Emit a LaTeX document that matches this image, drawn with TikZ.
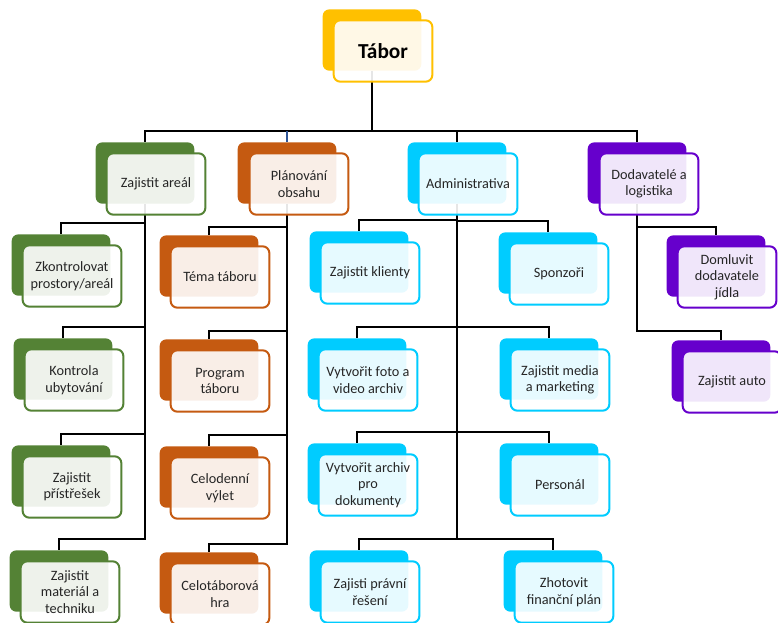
\documentclass[tikz,border=0pt]{standalone}
\usepackage{fontspec}
\setmainfont{Carlito}
\usepackage{tikz}
\usetikzlibrary{backgrounds}
\definecolor{rootyellow}{RGB}{255,192,0}
\definecolor{arealgreen}{RGB}{84,130,53}
\definecolor{planorange}{RGB}{197,90,17}
\definecolor{admincyan}{RGB}{0,204,255}
\definecolor{dodpurple}{RGB}{102,0,204}
\definecolor{linkblue}{RGB}{47,85,151}
\tikzstyle{back} = [rectangle, rounded corners=5pt, inner sep=0pt,
    minimum width=74pt, minimum height=46pt]
\tikzstyle{front} = [draw, rectangle, rounded corners=5pt, line width=1.5pt,
    fill=white, fill opacity=0.9, text opacity=1, text=black!85,
    minimum width=74pt, minimum height=46pt, inner sep=2pt, align=center,
    font=\fontsize{10.7}{12.3}\selectfont]
\tikzstyle{link} = [line width=1.5pt]

\begin{document}
\begin{tikzpicture}[x=0.75pt, y=-0.75pt]
    \useasboundingbox (0,0) rectangle (778,622);
    % root
    \node [back, fill=rootyellow] at (372,40) (tabor-b) {};
    \node [front, draw=rootyellow, text=black, font=\bfseries\fontsize{16}{19}\selectfont] at (383,51) (tabor) {Tábor};
    % first level
    \node [back, fill=arealgreen] at (145,173) (areal-b) {};
    \node [front, draw=arealgreen] at (156,184) (areal) {Zajistit areál};
    \node [back, fill=planorange] at (287,173) (plan-b) {};
    \node [front, draw=planorange] at (299,184) (plan) {Plánování\\obsahu};
    \node [back, fill=admincyan] at (457,173) (admin-b) {};
    \node [front, draw=admincyan] at (468,184) (admin) {Administrativa};
    \node [back, fill=dodpurple] at (637,173) (dod-b) {};
    \node [front, draw=dodpurple] at (649,184) (dod) {Dodavatelé a\\logistika};
    % green column
    \node [back, fill=arealgreen] at (61,265) (prostory-b) {};
    \node [front, draw=arealgreen] at (72,276) (prostory) {Zkontrolovat\\prostory/areál};
    \node [back, fill=arealgreen] at (63,369) (ubytovani-b) {};
    \node [front, draw=arealgreen] at (74,380) (ubytovani) {Kontrola\\ubytování};
    \node [back, fill=arealgreen] at (61,476) (pristresek-b) {};
    \node [front, draw=arealgreen] at (72,487) (pristresek) {Zajistit\\přístřešek};
    \node [back, fill=arealgreen] at (59,581) (material-b) {};
    \node [front, draw=arealgreen] at (70,592) (material) {Zajistit\\materiál a\\techniku};
    % orange column
    \node [back, fill=planorange] at (209,266) (tema-b) {};
    \node [front, draw=planorange] at (220,277) (tema) {Téma táboru};
    \node [back, fill=planorange] at (209,370) (program-b) {};
    \node [front, draw=planorange] at (220,381) (program) {Program\\táboru};
    \node [back, fill=planorange] at (209,477) (vylet-b) {};
    \node [front, draw=planorange] at (220,488) (vylet) {Celodenní\\výlet};
    \node [back, fill=planorange] at (209,583) (hra-b) {};
    \node [front, draw=planorange] at (220,594) (hra) {Celotáborová\\hra};
    % cyan columns
    \node [back, fill=admincyan] at (359,262) (klienti-b) {};
    \node [front, draw=admincyan] at (370,273) (klienti) {Zajistit klienty};
    \node [back, fill=admincyan] at (548,263) (sponzori-b) {};
    \node [front, draw=admincyan] at (559,274) (sponzori) {Sponzoři};
    \node [back, fill=admincyan] at (357,369) (foto-b) {};
    \node [front, draw=admincyan] at (368,380) (foto) {Vytvořit foto a\\video archiv};
    \node [back, fill=admincyan] at (549,369) (media-b) {};
    \node [front, draw=admincyan] at (560,380) (media) {Zajistit media\\a marketing};
    \node [back, fill=admincyan] at (357,474) (archiv-b) {};
    \node [front, draw=admincyan] at (368,485) (archiv) {Vytvořit archiv\\pro\\dokumenty};
    \node [back, fill=admincyan] at (549,474) (personal-b) {};
    \node [front, draw=admincyan] at (560,485) (personal) {Personál};
    \node [back, fill=admincyan] at (359,581) (pravo-b) {};
    \node [front, draw=admincyan] at (370,592) (pravo) {Zajisti právní\\řešení};
    \node [back, fill=admincyan] at (553,581) (finance-b) {};
    \node [front, draw=admincyan] at (564,592) (finance) {Zhotovit\\finanční plán};
    % purple column
    \node [back, fill=dodpurple] at (716,266) (jidlo-b) {};
    \node [front, draw=dodpurple] at (727,277) (jidlo) {Domluvit\\dodavatele\\jídla};
    \node [back, fill=dodpurple] at (721,371) (auto-b) {};
    \node [front, draw=dodpurple] at (732,382) (auto) {Zajistit auto};
    % connectors
    \begin{scope}[on background layer]
    \draw [link] (tabor-b.south) |- ([yshift=8pt]areal-b.north) -- (areal-b.north);
    \draw [link] (tabor-b.south) |- ([yshift=8pt]dod-b.north) -- (dod-b.north);
    \draw [link] (tabor-b.south) |- ([yshift=8pt]admin-b.north) -- (admin-b.north);
    \draw [link, linkblue] ([yshift=8pt]plan-b.north) -- (plan-b.north);
    \draw [link] (areal-b.south) |- ([yshift=8pt]prostory-b.north) -- (prostory-b.north);
    \draw [link] (areal-b.south) |- ([yshift=8pt]ubytovani-b.north) -- (ubytovani-b.north);
    \draw [link] (areal-b.south) |- ([yshift=8pt]pristresek-b.north) -- (pristresek-b.north);
    \draw [link] (areal-b.south) |- ([yshift=8pt]material-b.north) -- (material-b.north);
    \draw [link] (plan-b.south) |- ([yshift=6pt]tema-b.north) -- (tema-b.north);
    \draw [link] (plan-b.south) |- ([yshift=6pt]program-b.north) -- (program-b.north);
    \draw [link] (plan-b.south) |- ([yshift=8pt]vylet-b.north) -- (vylet-b.north);
    \draw [link] (plan-b.south) |- ([yshift=6pt]hra-b.north) -- (hra-b.north);
    \draw [link] (admin-b.south) |- ([yshift=8pt]klienti-b.north) -- (klienti-b.north);
    \draw [link] (admin-b.south) |- ([yshift=8pt]sponzori-b.north) -- (sponzori-b.north);
    \draw [link] (admin-b.south) |- ([yshift=8pt]foto-b.north) -- (foto-b.north);
    \draw [link] (admin-b.south) |- ([yshift=8pt]media-b.north) -- (media-b.north);
    \draw [link] (admin-b.south) |- ([yshift=8pt]archiv-b.north) -- (archiv-b.north);
    \draw [link] (admin-b.south) |- ([yshift=8pt]personal-b.north) -- (personal-b.north);
    \draw [link] (admin-b.south) |- ([yshift=8pt]pravo-b.north) -- (pravo-b.north);
    \draw [link] (admin-b.south) |- ([yshift=8pt]finance-b.north) -- (finance-b.north);
    \draw [link] (dod-b.south) |- ([yshift=6pt]jidlo-b.north) -- (jidlo-b.north);
    \draw [link] (dod-b.south) |- ([yshift=7pt]auto-b.north) -- (auto-b.north);
    \end{scope}
\end{tikzpicture}
\end{document}
